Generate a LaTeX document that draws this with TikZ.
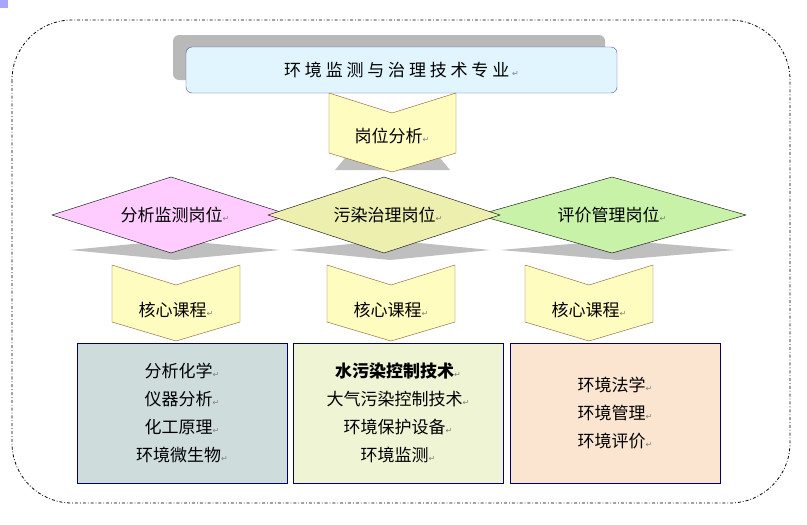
\documentclass[tikz,border=0pt]{standalone}
\usepackage{fontspec}
\newfontfamily\cjk{Noto Sans CJK SC}
\newfontfamily\dejavu{DejaVu Sans}
\newcommand{\rmark}{{\dejavu\fontsize{8}{8}\selectfont\textcolor{gray}{↵}}}
\definecolor{pinkD}{HTML}{FFCCFF}
\definecolor{yelD}{HTML}{ECEFAE}
\definecolor{grnD}{HTML}{C8F2A8}
\definecolor{box1}{HTML}{CFDCDC}
\definecolor{box2}{HTML}{EEF4D4}
\definecolor{box3}{HTML}{FCE5D0}
\begin{document}
\begin{tikzpicture}[x=1pt,y=-1pt,font=\cjk\fontsize{17}{22}\selectfont]
      \tikzstyle{BOX} = [draw=blue!40!black, minimum width=210pt, minimum height=140pt, align=center]
      \tikzstyle{CHEV} = [draw=brown!70!black, fill=yellow!25]
      \tikzstyle{DIAM} = [draw=black]
      \tikzstyle{SHAD} = [fill=gray!50, draw=none]

      \useasboundingbox (0,0) rectangle (807,525);

      %%%%% FRAME
      \fill[blue!35] (0,0) rectangle (8,8);
      \draw[thick, dash dot, rounded corners=60pt] (12,20) rectangle (790,503);

      %%%%% TITLE
      \fill[gray!55, rounded corners=6pt] (173,35) rectangle (605,80);
      \node[draw=blue!35!gray, fill=cyan!12, rounded corners=6pt, minimum width=431pt, minimum height=46pt] (title) at (401.5,70) {环\ 境\ 监\ 测\ 与\ 治\ 理\ 技\ 术\ 专\ 业\,\rmark};

      %%%%% CHEVRONS
      \fill[SHAD] (345,158) -- (440,158) -- (450,170) -- (335,170) -- cycle;
      \draw[CHEV] (329,93) -- (392,113) -- (456,93) -- (456,153) -- (392,172) -- (329,153) -- cycle;
      \node (post) at (392,136) {岗位分析\rmark};

      \foreach \cx/\nm in {176/c1, 391/c2, 589/c3} {
        \draw[CHEV] (\cx-64,265) -- (\cx,285) -- (\cx+64,265) -- (\cx+64,322) -- (\cx,341) -- (\cx-64,322) -- cycle;
        \node (\nm) at (\cx,310) {核心课程\rmark};
      }

      %%%%% DIAMONDS
      \foreach \l/\r in {70/280, 290/490, 500/735} {
        \fill[SHAD] (\l,250) -- ({(\l+\r)/2},240) -- (\r,250) -- ({(\l+\r)/2},260) -- cycle;
      }
      \draw[DIAM, fill=pinkD] (52,215) -- (171,177) -- (290,215) -- (171,253) -- cycle;
      \draw[DIAM, fill=grnD] (478,215) -- (612,177) -- (746,215) -- (612,253) -- cycle;
      \draw[DIAM, fill=yelD] (268,215) -- (384,177) -- (500,215) -- (384,253) -- cycle;
      \node (d1) at (175,215) {分析监测岗位\rmark};
      \node (d2) at (388,215) {污染治理岗位\rmark};
      \node (d3) at (612,215) {评价管理岗位\rmark};

      %%%%% COURSE BOXES
      \node[BOX, fill=box1] (b1) at (182,413) {分析化学\rmark\\[6pt]仪器分析\rmark\\[6pt]化工原理\rmark\\[6pt]环境微生物\rmark};
      \node[BOX, fill=box2] (b2) at (398,413) {\textbf{水污染控制技术}\rmark\\[6pt]大气污染控制技术\rmark\\[6pt]环境保护设备\rmark\\[6pt]环境监测\rmark};
      \node[BOX, fill=box3] (b3) at (615,413) {环境法学\rmark\\[6pt]环境管理\rmark\\[6pt]环境评价\rmark};
\end{tikzpicture}
\end{document}
